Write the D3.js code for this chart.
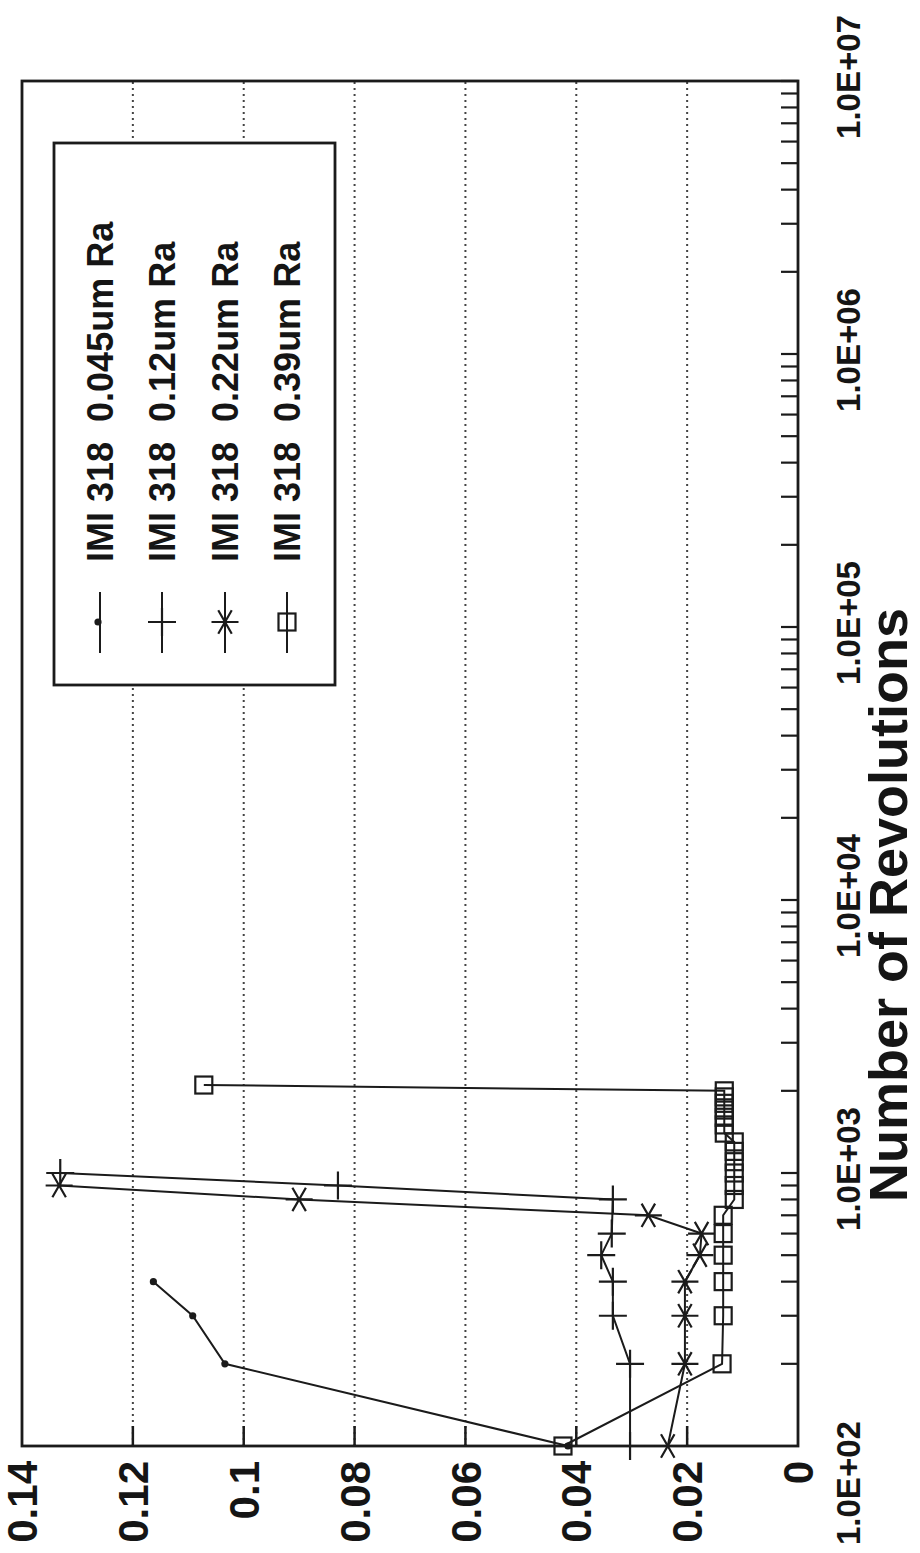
<!DOCTYPE html>
<html><head><meta charset="utf-8">
<script src="https://cdn.jsdelivr.net/npm/d3@7"></script>
<style>
body{margin:0;background:#fff}
svg{display:block}
text{font-family:"Liberation Sans",Arial,Helvetica,sans-serif;font-weight:bold;fill:#151515}
</style>
</head><body>
<svg id="c" width="920" height="1553"></svg>
<script>
// ---------------- data ----------------
const seriesNames = ["IMI 318  0.045um Ra", "IMI 318  0.12um Ra", "IMI 318  0.22um Ra", "IMI 318  0.39um Ra"];
const markerTypes = ["dot", "plus", "star", "square"];

const revA = [100, 200, 300, 400];
const cofA = [0.0415, 0.1034, 0.1092, 0.1163];

const revB = [100, 200, 300, 400, 500, 600, 800, 900, 1000];
const cofB = [0.0303, 0.0303, 0.0334, 0.0334, 0.0355, 0.0336, 0.0334, 0.0830, 0.1331];

const revC = [100, 200, 300, 400, 500, 600, 700, 800, 900];
const cofC = [0.0235, 0.0204, 0.0204, 0.0204, 0.0177, 0.0174, 0.0270, 0.0900, 0.1333];

const revD = [100, 200, 300, 400, 500, 600, 700, 800, 900, 1000, 1100, 1200, 1300, 1400, 1500, 1600, 1700, 1800, 1900, 2000, 2100];
const cofD = [0.0424, 0.0137, 0.0135, 0.0135, 0.0135, 0.0135, 0.0135, 0.0115, 0.0115, 0.0115, 0.0115, 0.0115, 0.0115, 0.0133, 0.0133, 0.0133, 0.0133, 0.0133, 0.0133, 0.0133, 0.1072];

const yTicks = [0, 0.02, 0.04, 0.06, 0.08, 0.1, 0.12, 0.14];
const yTickLabels = ["0", "0.02", "0.04", "0.06", "0.08", "0.1", "0.12", "0.14"];
const xTicks = [1e2, 1e3, 1e4, 1e5, 1e6, 1e7];
const xTickLabels = ["1.0E+02", "1.0E+03", "1.0E+04", "1.0E+05", "1.0E+06", "1.0E+07"];
const xTitle = "Number of Revolutions";

// ---------------- drawing ----------------
const series = [
  {name: seriesNames[0], marker: markerTypes[0], rev: revA, cof: cofA},
  {name: seriesNames[1], marker: markerTypes[1], rev: revB, cof: cofB},
  {name: seriesNames[2], marker: markerTypes[2], rev: revC, cof: cofC},
  {name: seriesNames[3], marker: markerTypes[3], rev: revD, cof: cofD}
];

const svg = d3.select("#c");
svg.append("rect").attr("width", 920).attr("height", 1553).attr("fill", "#fff");
// the whole chart is drawn landscape and turned a quarter turn anticlockwise
const g = svg.append("g").attr("transform", "translate(0,1553) rotate(-90)");

const x = d3.scaleLog().domain([1e2, 1e7]).range([107, 1472]);
const y = d3.scaleLinear().domain([0, 0.14]).range([798, 22]);
const ink = "#1b1b1b";

// dotted grid
g.append("g").selectAll("line").data(yTicks.filter(t => t > 0 && t < 0.14)).join("line")
  .attr("x1", x.range()[0]).attr("x2", x.range()[1])
  .attr("y1", d => y(d)).attr("y2", d => y(d))
  .attr("stroke", "#444").attr("stroke-width", 2).attr("stroke-dasharray", "2,4");

// left axis ticks (inward)
g.append("g").selectAll("line").data(yTicks.filter(t => t > 0 && t < 0.14)).join("line")
  .attr("x1", x.range()[0]).attr("x2", x.range()[0] + 20)
  .attr("y1", d => y(d)).attr("y2", d => y(d))
  .attr("stroke", ink).attr("stroke-width", 2.5);

// bottom axis log ticks (inward)
const logTicks = [];
for (let e = 2; e < 7; e++) for (let k = 1; k <= 9; k++) logTicks.push(k * Math.pow(10, e));
logTicks.push(1e7);
g.append("g").selectAll("line").data(logTicks.filter(t => t > 100)).join("line")
  .attr("x1", d => x(d)).attr("x2", d => x(d))
  .attr("y1", y(0)).attr("y2", y(0) - 17)
  .attr("stroke", ink).attr("stroke-width", 2.2);

// frame
g.append("rect").attr("x", x.range()[0]).attr("y", y(0.14))
  .attr("width", x.range()[1] - x.range()[0]).attr("height", y(0) - y(0.14))
  .attr("fill", "none").attr("stroke", ink).attr("stroke-width", 2.8);

// y tick labels
g.append("g").selectAll("text").data(yTicks).join("text")
  .attr("x", 92).attr("y", d => y(d)).attr("dy", "0.36em")
  .attr("text-anchor", "end").attr("font-size", 42)
  .text((d, i) => yTickLabels[i]);

// x tick labels
g.append("g").selectAll("text").data(xTicks).join("text")
  .attr("x", (d, i) => i === 0 ? 8 : x(d) + 4).attr("y", 848).attr("dy", "0.36em")
  .attr("text-anchor", (d, i) => i === 0 ? "start" : "middle")
  .attr("font-size", 33)
  .text((d, i) => xTickLabels[i]);

// axis title
g.append("text").attr("x", 648).attr("y", 907)
  .attr("text-anchor", "middle").attr("font-size", 54).text(xTitle);

// markers
function drawMarker(sel, type) {
  if (type === "dot") {
    sel.append("circle").attr("r", 3.6).attr("fill", ink);
  } else if (type === "plus") {
    sel.append("path").attr("d", "M-14,0H14M0,-14V14").attr("stroke", ink).attr("stroke-width", 2.2).attr("fill", "none");
  } else if (type === "star") {
    const r = 13.5, a = Math.PI / 6;
    const dx = r * Math.cos(a), dy = r * Math.sin(a);
    sel.append("path").attr("d", `M0,${-r}V${r}M${-dx},${-dy}L${dx},${dy}M${-dx},${dy}L${dx},${-dy}`)
      .attr("stroke", ink).attr("stroke-width", 2.2).attr("fill", "none");
  } else {
    sel.append("rect").attr("x", -8.5).attr("y", -8.5).attr("width", 17).attr("height", 17)
      .attr("fill", "none").attr("stroke", ink).attr("stroke-width", 2.2);
  }
}

const line = d3.line().x(d => x(d[0])).y(d => y(d[1]));
series.forEach(s => {
  const pts = s.rev.map((r, i) => [r, s.cof[i]]);
  g.append("path").datum(pts).attr("d", line).attr("fill", "none")
    .attr("stroke", ink).attr("stroke-width", 2);
  pts.forEach(p => {
    const m = g.append("g").attr("transform", `translate(${x(p[0])},${y(p[1])})`);
    drawMarker(m, s.marker);
  });
});

// legend
const lg = g.append("g");
lg.append("rect").attr("x", 868).attr("y", 54).attr("width", 542).attr("height", 281)
  .attr("fill", "#fff").attr("stroke", ink).attr("stroke-width", 2.8);
const legendV = [100, 162, 225, 287];
series.forEach((s, i) => {
  const v = legendV[i];
  lg.append("line").attr("x1", 900).attr("x2", 961).attr("y1", v).attr("y2", v)
    .attr("stroke", ink).attr("stroke-width", 2);
  const m = lg.append("g").attr("transform", `translate(931,${s.marker === "dot" ? v - 2 : v})`);
  drawMarker(m, s.marker);
  lg.append("text").attr("x", 991).attr("y", v).attr("dy", "0.36em")
    .attr("font-size", 36).style("white-space", "pre").text(s.name);
});
</script>
</body></html>
